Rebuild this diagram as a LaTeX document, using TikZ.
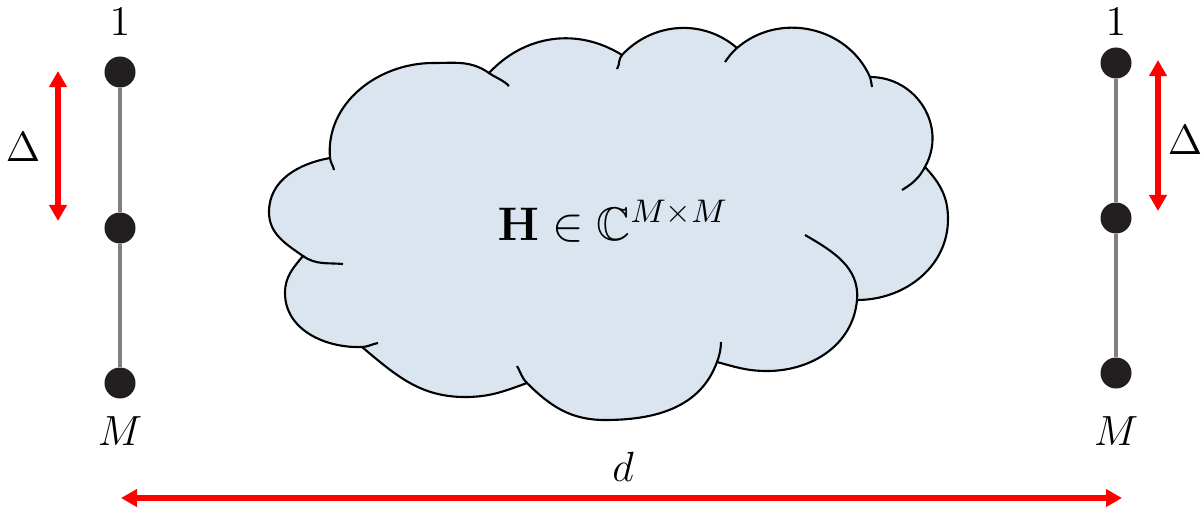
\documentclass[tikz,border=0pt]{standalone}
\usepackage{graphicx}
\usepackage{amsmath,amssymb}
\usetikzlibrary{arrows.meta}

\definecolor{cloudblue}{RGB}{218,229,240}
\definecolor{dotblack}{RGB}{35,31,32}
\definecolor{linegray}{RGB}{128,128,128}

\tikzset{
  antenna/.style={circle, fill=dotblack, inner sep=0pt, minimum size=0.31cm},
  arrayline/.style={draw=linegray, line width=1.3pt},
  spacing/.style={draw=red, line width=1.7pt, {Triangle[width=0.17cm,length=0.16cm]}-{Triangle[width=0.17cm,length=0.16cm]}},
  cloudline/.style={draw=black, line width=0.6pt},
  lab/.style={font=\large, inner sep=0pt}
}

\begin{document}
\begin{tikzpicture}[x=0.01cm, y=0.01cm]
  \useasboundingbox (0,0) rectangle (1203,511);
  \clip (0,0) rectangle (1203,511);

  % Junctions between the puffs of the cloud.
  \coordinate (J1) at (330,353);
  \coordinate (J2) at (489,438);
  \coordinate (J3) at (622,456);
  \coordinate (J4) at (737,463);
  \coordinate (J5) at (870,434);
  \coordinate (J6) at (925,344);
  \coordinate (J7) at (857,211);
  \coordinate (J8) at (717,149);
  \coordinate (J9) at (527,128);
  \coordinate (J10) at (362,164);
  \coordinate (J11) at (303,255);

  % Cloud outline, puff by puff, clockwise from the upper left.
  \path[fill=cloudblue, cloudline]
    (J1) to[out=95,in=180] (433,448) to[out=0,in=145] (J2)
    to[out=47,in=148] (J3)
    to[out=47,in=139] (J4)
    to[out=41,in=114,looseness=1.05] (J5)
    to[out=0,in=61,looseness=1.13] (J6)
    to[out=-47,in=90] (948,292) to[out=-90,in=0] (J7)
    to[out=-95,in=0] (767,140) to[out=180,in=-15] (J8)
    to[out=-110,in=0] (605,91) to[out=180,in=-45] (J9)
    to[out=200,in=0] (465,114) to[out=180,in=-40] (J10)
    to[out=182,in=-90] (285,218) to[out=90,in=230] (J11)
    to[out=145,in=-90] (269,299) to[out=90,in=190] (J1) -- cycle;

  % Short inner strokes where one puff runs on past a junction.
  \draw[cloudline] (334,341) to[out=100,in=-85] (J1);
  \draw[cloudline] (J2) to[out=-35,in=135] (509,425);
  \draw[cloudline] (617,442) to[out=57,in=-133] (J3);
  \draw[cloudline] (725,449) to[out=54,in=-139] (J4);
  \draw[cloudline] (J5) to[out=-66,in=107] (872,424);
  \draw[cloudline] (J6) to[out=-119,in=31] (902,321);
  \draw[cloudline] (805,276) to[out=-30,in=85] (J7);
  \draw[cloudline] (721,169) to[out=-92,in=70] (J8);
  \draw[cloudline] (J9) to[out=135,in=-60] (517,145);
  \draw[cloudline] (378,168) to[out=190,in=2] (J10);
  \draw[cloudline] (343,247) to[out=175,in=-35] (J11);

  \node (H) [anchor=base] at (613,271) {\scalebox{0.93}{\Large $\mathbf{H}\in\mathbb{C}^{M\times M}$}};

  % Transmit array on the left.
  \node (T1) [antenna] at (120,439) {};
  \node (T2) [antenna] at (120,283) {};
  \node (TM) [antenna] at (120,128) {};
  \draw[arrayline] (T1) -- (T2) -- (TM);
  \node (T1lab) [lab] at (120,489) {$1$};
  \node (TMlab) [lab] at (120,80) {$M$};

  % Receive array on the right.
  \node (R1) [antenna] at (1116,448) {};
  \node (R2) [antenna] at (1116,293) {};
  \node (RM) [antenna] at (1116,138) {};
  \draw[arrayline] (R1) -- (R2) -- (RM);
  \node (R1lab) [lab] at (1116,489) {$1$};
  \node (RMlab) [lab] at (1116,80) {$M$};

  % Element spacing.
  \coordinate (TDa) at (58,440);
  \coordinate (TDb) at (58,290);
  \draw[spacing] (TDa) -- (TDb);
  \node (TDlab) [lab] at (23,364) {$\Delta$};
  \coordinate (RDa) at (1158,451);
  \coordinate (RDb) at (1158,300);
  \draw[spacing] (RDa) -- (RDb);
  \node (RDlab) [lab] at (1185,371) {$\Delta$};

  % Link distance.
  \coordinate (Da) at (121,13);
  \coordinate (Db) at (1122,13);
  \draw[spacing, line width=1.5pt] (Da) -- (Db);
  \node (Dlab) [lab] at (623,44) {$d$};
\end{tikzpicture}
\end{document}
